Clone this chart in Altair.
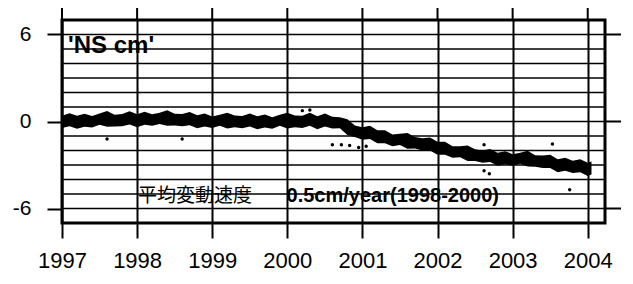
import altair as alt
import pandas as pd

# ---- data ----
band_t = [1997.0, 1997.1, 1997.2, 1997.3, 1997.4, 1997.5, 1997.6, 1997.7, 1997.8, 1997.9,
          1998.0, 1998.1, 1998.2, 1998.3, 1998.4, 1998.5, 1998.6, 1998.7, 1998.8, 1998.9,
          1999.0, 1999.1, 1999.2, 1999.3, 1999.4, 1999.5, 1999.6, 1999.7, 1999.8, 1999.9,
          2000.0, 2000.1, 2000.2, 2000.3, 2000.4, 2000.5, 2000.6, 2000.7, 2000.8, 2000.9,
          2001.0, 2001.1, 2001.2, 2001.3, 2001.4, 2001.5, 2001.6, 2001.7, 2001.8, 2001.9,
          2002.0, 2002.1, 2002.2, 2002.3, 2002.4, 2002.5, 2002.6, 2002.7, 2002.8, 2002.9,
          2003.0, 2003.1, 2003.2, 2003.3, 2003.4, 2003.5, 2003.6, 2003.7, 2003.8, 2003.9,
          2004.0, 2004.05]
band_upper = [0.40, 0.57, 0.40, 0.53, 0.38, 0.55, 0.72, 0.46, 0.52, 0.70,
              0.50, 0.68, 0.50, 0.60, 0.78, 0.53, 0.52, 0.65, 0.43, 0.55,
              0.35, 0.47, 0.60, 0.41, 0.38, 0.55, 0.37, 0.48, 0.30, 0.47,
              0.60, 0.41, 0.40, 0.60, 0.37, 0.55, 0.32, 0.30, 0.15, -0.27,
              -0.40, -0.30, -0.60, -0.60, -0.90, -0.85, -0.80, -1.07, -1.15, -1.10,
              -1.40, -1.40, -1.70, -1.70, -1.65, -1.92, -2.00, -1.90, -2.15, -2.05,
              -2.25, -2.15, -2.02, -2.32, -2.35, -2.30, -2.60, -2.50, -2.70, -2.60,
              -2.85, -2.75]
band_lower = [-0.45, -0.33, -0.50, -0.37, -0.42, -0.22, -0.36, -0.34, -0.33, -0.20,
              -0.40, -0.22, -0.30, -0.17, -0.30, -0.27, -0.33, -0.25, -0.47, -0.35,
              -0.45, -0.30, -0.48, -0.39, -0.47, -0.35, -0.53, -0.42, -0.50, -0.30,
              -0.48, -0.39, -0.45, -0.30, -0.53, -0.35, -0.48, -0.47, -0.93, -1.07,
              -1.25, -1.20, -1.50, -1.50, -1.70, -1.62, -1.88, -1.87, -2.00, -2.00,
              -2.30, -2.30, -2.50, -2.47, -2.73, -2.72, -2.85, -2.80, -3.05, -2.95,
              -3.05, -2.92, -3.10, -3.12, -3.20, -3.20, -3.50, -3.40, -3.55, -3.50,
              -3.75, -3.65]
outlier_t = [1997.6, 1998.6, 2000.2, 2000.3, 2000.6, 2000.72, 2000.83, 2000.95, 2001.05,
             2002.62, 2002.62, 2002.69, 2003.53, 2003.76]
outlier_v = [-1.2, -1.2, 0.75, 0.8, -1.6, -1.6, -1.65, -1.8, -1.7,
             -1.6, -3.4, -3.6, -1.55, -4.7]

years = [1997, 1998, 1999, 2000, 2001, 2002, 2003, 2004]
y_ticks = [-6, 0, 6]
grid_levels = [-7, -6, -5, -4, -3, -2, -1, 0, 1, 2, 3, 4, 5, 6, 7]

title_text = ["'NS cm'"]
title_x = [1997.08]
title_y = [5.2]
note_text = ["平均変動速度"]
note_x = [1998.0]
note_y = [-5.15]
rate_text = ["0.5cm/year(1998-2000)"]
rate_x = [1999.99]
rate_y = [-5.15]

W, H = 543, 203
xs = alt.Scale(domain=[1997, 2004.23], nice=False, zero=False)
ys = alt.Scale(domain=[-7, 7], nice=False, zero=False)
FONT = "Liberation Sans"

X_AXIS = alt.Axis(values=years, format="d", grid=True, gridColor="black",
                  gridWidth=2, gridOpacity=1, tickColor="black", tickSize=15,
                  tickWidth=2, labelFontSize=22, labelFont=FONT, labelColor="black",
                  labelPadding=12, domain=False, labelFlush=False, labelOverlap=False)
Y_AXIS = alt.Axis(values=y_ticks, grid=False, tickColor="black", tickSize=15,
                  tickWidth=2, labelFontSize=21, labelFont=FONT, labelColor="black",
                  labelPadding=16, domain=False, labelExpr="'' + datum.value")


def xenc(field):
    return alt.X(field, scale=xs, title=None, axis=X_AXIS)


def yenc(field):
    return alt.Y(field, scale=ys, title=None, axis=Y_AXIS)


band_df = pd.DataFrame({"t": band_t, "hi": band_upper, "lo": band_lower})
band = alt.Chart(band_df).mark_area(color="black", opacity=1, interpolate="linear").encode(
    x=xenc("t:Q"), y=yenc("hi:Q"), y2="lo:Q",
)

grid_df = pd.DataFrame({"v": grid_levels})
hgrid = alt.Chart(grid_df).mark_rule(color="black", strokeWidth=1.5).encode(
    y=yenc("v:Q")
)

year_df = pd.DataFrame({"yr": years})
top_ext = alt.Chart(year_df).mark_rule(color="black", strokeWidth=2).encode(
    x=xenc("yr:Q"), y=alt.value(-14), y2=alt.value(0),
)

rt_df = pd.DataFrame({"v": y_ticks})
right_ext = alt.Chart(rt_df).mark_rule(color="black", strokeWidth=2).encode(
    y=yenc("v:Q"), x=alt.value(W), x2=alt.value(W + 16),
)

out_df = pd.DataFrame({"t": outlier_t, "v": outlier_v})
outliers = alt.Chart(out_df).mark_circle(color="black", opacity=1, size=12).encode(
    x=xenc("t:Q"), y=yenc("v:Q"),
)

t_df = pd.DataFrame({"x": title_x, "y": title_y, "s": title_text})
title_mark = alt.Chart(t_df).mark_text(
    align="left", baseline="middle", font=FONT, fontSize=24, fontWeight="bold", color="black"
).encode(x=xenc("x:Q"), y=yenc("y:Q"), text="s:N")

n_df = pd.DataFrame({"x": note_x, "y": note_y, "s": note_text})
note_mark = alt.Chart(n_df).mark_text(
    align="left", baseline="middle", font="Noto Sans CJK JP", fontSize=19, color="black", dx=1
).encode(x=xenc("x:Q"), y=yenc("y:Q"), text="s:N")

r_df = pd.DataFrame({"x": rate_x, "y": rate_y, "s": rate_text})
rate_mark = alt.Chart(r_df).mark_text(
    align="left", baseline="middle", font=FONT, fontSize=20, fontWeight="bold", color="black"
).encode(x=xenc("x:Q"), y=yenc("y:Q"), text="s:N")

chart = alt.layer(
    band, hgrid, outliers, top_ext, right_ext, title_mark, note_mark, rate_mark
).properties(
    width=W, height=H,
    autosize=alt.AutoSizeParams(type="none"),
    padding={"left": 54, "top": 12, "right": 20, "bottom": 53},
    background="white",
).configure_view(stroke="black", strokeWidth=3)

chart.save("out.html", embed_options={"renderer": "svg", "actions": False})
